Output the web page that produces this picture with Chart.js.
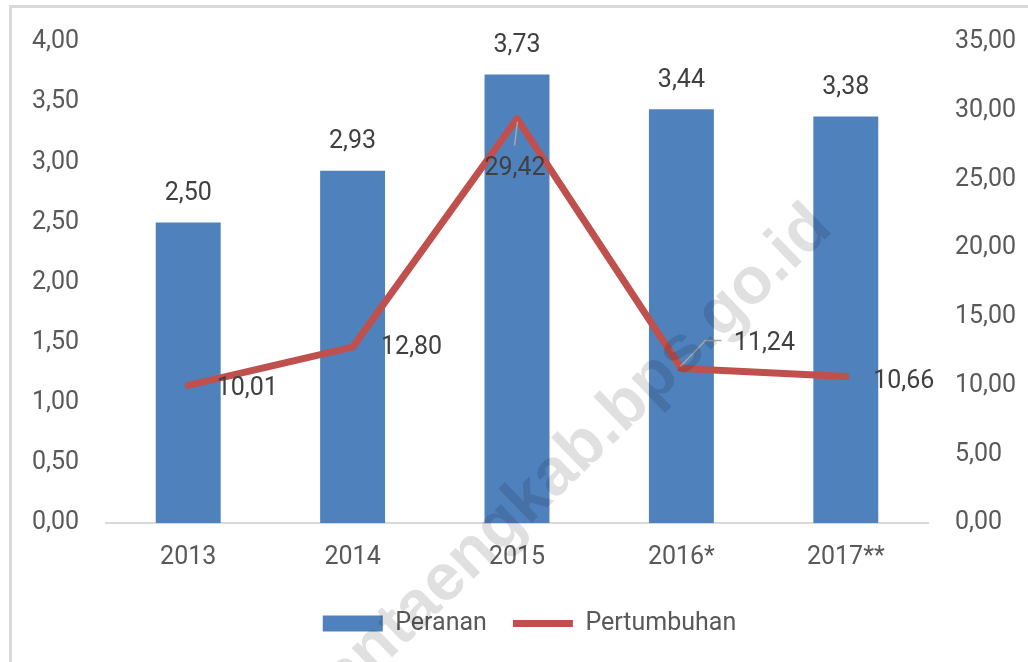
<!DOCTYPE html>
<html>
<head>
<meta charset="utf-8">
<script src="https://cdn.jsdelivr.net/npm/chart.js@4.4.1/dist/chart.umd.min.js"></script>
<style>
  html, body { margin: 0; padding: 0; background: #ffffff; }
  #wrap { width: 1028px; height: 662px; position: relative; }
</style>
</head>
<body>
<div id="wrap"><canvas id="c" width="1028" height="662"></canvas></div>
<script>
// ---- data ----
const years = ['2013', '2014', '2015', '2016*', '2017**'];
const peranan = [2.50, 2.93, 3.73, 3.44, 3.38];
const pertumbuhan = [10.01, 12.80, 29.42, 11.24, 10.66];
const seriesNames = ['Peranan', 'Pertumbuhan'];
const watermarkText = 'bantaengkab.bps.go.id';

// ---- style / label placement (not data) ----
const FONT = 'Roboto';
const lineLabelOffsets = [[59, 3], [59, 1], [-2, 50], [83, -25], [58, 5]];
const fmt = v => v.toFixed(2).replace('.', ',');

const decorPlugin = {
  id: 'decor',
  beforeDraw(chart) {
    const ctx = chart.ctx;
    ctx.save();
    ctx.fillStyle = '#ffffff';
    ctx.fillRect(0, 0, chart.width, chart.height);
    ctx.strokeStyle = '#d9d9d9';
    ctx.lineWidth = 3;
    ctx.strokeRect(10.5, 6.5, chart.width + 50, chart.height + 50);
    ctx.restore();
  },
  afterDatasetsDraw(chart) {
    const ctx = chart.ctx;
    ctx.save();
    ctx.font = '25px ' + FONT;
    ctx.textAlign = 'center';
    ctx.textBaseline = 'middle';
    ctx.fillStyle = '#404040';
    // bar labels
    const barMeta = chart.getDatasetMeta(0);
    barMeta.data.forEach((el, i) => {
      ctx.fillText(fmt(peranan[i]), el.x, el.y - 29);
    });
    // line labels
    const lineMeta = chart.getDatasetMeta(1);
    lineMeta.data.forEach((el, i) => {
      const [dx, dy] = lineLabelOffsets[i];
      ctx.fillText(fmt(pertumbuhan[i]), el.x + dx, el.y + dy);
    });
    // leader lines
    ctx.strokeStyle = '#a6a6a6';
    ctx.lineWidth = 1.5;
    const p2 = lineMeta.data[2];
    ctx.beginPath();
    ctx.moveTo(p2.x + 0.5, p2.y + 3);
    ctx.lineTo(p2.x - 2.5, p2.y + 27);
    ctx.stroke();
    const p3 = lineMeta.data[3];
    ctx.beginPath();
    ctx.moveTo(p3.x - 1, p3.y - 2);
    ctx.lineTo(p3.x + 24, p3.y - 28);
    ctx.lineTo(p3.x + 40, p3.y - 28);
    ctx.stroke();
    ctx.restore();
  },
  afterDraw(chart) {
    const ctx = chart.ctx;
    ctx.save();
    ctx.translate(563, 467);
    ctx.rotate(-44 * Math.PI / 180);
    ctx.font = 'bold 66px "Liberation Sans"';
    ctx.textAlign = 'center';
    ctx.textBaseline = 'middle';
    ctx.fillStyle = 'rgba(0,0,0,0.12)';
    ctx.fillText(watermarkText, 0, 0);
    ctx.restore();
  }
};

new Chart(document.getElementById('c'), {
  data: {
    labels: years,
    datasets: [
      {
        type: 'bar',
        label: seriesNames[0],
        data: peranan,
        backgroundColor: '#4f81bd',
        borderWidth: 0,
        yAxisID: 'y',
        barPercentage: 0.395,
        categoryPercentage: 1.0,
        pointStyle: 'rect',
        order: 2
      },
      {
        type: 'line',
        label: seriesNames[1],
        data: pertumbuhan,
        borderColor: '#c0504d',
        backgroundColor: '#c0504d',
        borderWidth: 7,
        borderCapStyle: 'round',
        borderJoinStyle: 'round',
        pointRadius: 0,
        pointHoverRadius: 0,
        pointStyle: 'line',
        tension: 0,
        yAxisID: 'y1',
        order: 1
      }
    ]
  },
  options: {
    responsive: false,
    animation: false,
    devicePixelRatio: 1,
    layout: { padding: { top: 40, left: 31, right: 0, bottom: 16 } },
    plugins: {
      tooltip: { enabled: false },
      legend: {
        position: 'bottom',
        labels: {
          usePointStyle: true,
          pointStyleWidth: 60,
          boxHeight: 16,
          padding: 26,
          color: '#595959',
          font: { family: FONT, size: 25 },
          sort: (a, b) => a.datasetIndex - b.datasetIndex
        }
      }
    },
    scales: {
      x: {
        offset: true,
        grid: { display: false, drawTicks: false },
        border: { display: true, color: '#d9d9d9', width: 2 },
        ticks: { color: '#595959', font: { family: FONT, size: 25 }, padding: 20 },
        afterFit(s) { s.height = 62; }
      },
      y: {
        position: 'left',
        min: 0, max: 4,
        grid: { display: false, drawTicks: false },
        border: { display: false },
        ticks: {
          stepSize: 0.5,
          color: '#595959',
          font: { family: FONT, size: 25 },
          padding: 27,
          callback: v => fmt(v)
        },
        afterFit(s) { s.width = 75; }
      },
      y1: {
        position: 'right',
        min: 0, max: 35,
        grid: { display: false, drawTicks: false },
        border: { display: false },
        ticks: {
          stepSize: 5,
          color: '#595959',
          font: { family: FONT, size: 25 },
          padding: 27,
          callback: v => fmt(v)
        },
        afterFit(s) { s.width = 100; }
      }
    }
  },
  plugins: [decorPlugin]
});
</script>
</body>
</html>
